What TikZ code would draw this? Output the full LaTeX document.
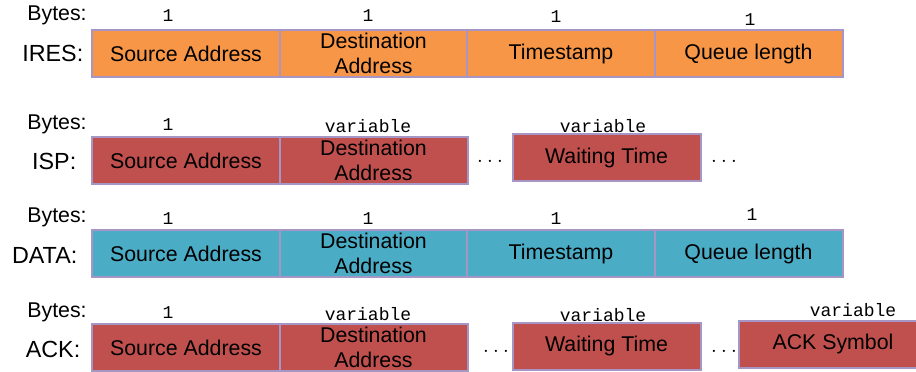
\documentclass[tikz,border=0pt]{standalone}
\usepackage{fontspec}
\setmainfont{Liberation Sans}
\setmonofont{Liberation Mono}
\definecolor{fieldorange}{HTML}{F79646}
\definecolor{fieldred}{HTML}{C0504D}
\definecolor{fieldblue}{HTML}{4BACC6}
\definecolor{fieldedge}{HTML}{A596C6}

\begin{document}
\begin{tikzpicture}[
        x=0.75pt,y=-0.75pt,
        field/.style={draw=fieldedge,line width=1.5pt,minimum width=141pt,minimum height=35.25pt,
          inner sep=0pt,align=center,font=\fontsize{16}{18.75}\selectfont},
        ires/.style={field,fill=fieldorange},
        isp/.style={field,fill=fieldred},
        dat/.style={field,fill=fieldblue},
        pkt/.style={anchor=east,font=\fontsize{17.5}{20}\selectfont},
        bytes/.style={font=\fontsize{16}{18}\selectfont},
        size/.style={font=\ttfamily\fontsize{13.5}{16}\selectfont},
        gap/.style={font=\fontsize{16}{18}\selectfont}
      ]
        \useasboundingbox (0,0) rectangle (916,371);

        \node[bytes] (iresbytes) at (57,15) {Bytes:};
        \node[pkt] (ireslabel) at (88,53) {IRES:};
        \node[ires] (iressrc) at (186,53.5) {Source Address};
        \node[ires] (iresdst) at (373.5,53.5) {Destination\\Address};
        \node[ires] (irests) at (561,53.5) {Timestamp};
        \node[ires] (iresq) at (748.5,53.5) {Queue length};
        \node[size] at (168,16) {1};
        \node[size] at (368,16) {1};
        \node[size] at (556,17) {1};
        \node[size] at (750,20) {1};

        \node[bytes] (ispbytes) at (57,124) {Bytes:};
        \node[pkt] (isplabel) at (81,161) {ISP:};
        \node[isp] (ispsrc) at (186,160.5) {Source Address};
        \node[isp] (ispdst) at (373.5,160.5) {Destination\\Address};
        \node[gap] (ispgap1) at (490,161) {$\ldots$};
        \node[isp] (ispwait) at (606.5,157.5) {Waiting Time};
        \node[gap] (ispgap2) at (724,161) {$\ldots$};
        \node[size] at (168,125) {1};
        \node[size] at (368,126) {variable};
        \node[size] at (603,126) {variable};

        \node[bytes] (databytes) at (57,217) {Bytes:};
        \node[pkt] (datalabel) at (82,255) {DATA:};
        \node[dat] (datasrc) at (186,253.5) {Source Address};
        \node[dat] (datadst) at (373.5,253.5) {Destination\\Address};
        \node[dat] (datats) at (561,253.5) {Timestamp};
        \node[dat] (dataq) at (748.5,253.5) {Queue length};
        \node[size] at (168,219) {1};
        \node[size] at (368,219) {1};
        \node[size] at (556,219) {1};
        \node[size] at (752,215) {1};

        \node[bytes] (ackbytes) at (57,312) {Bytes:};
        \node[pkt] (acklabel) at (85,349) {ACK:};
        \node[isp] (acksrc) at (186,347.5) {Source Address};
        \node[isp] (ackdst) at (373.5,347.5) {Destination\\Address};
        \node[gap] (ackgap1) at (496,351) {$\ldots$};
        \node[isp] (ackwait) at (606.5,346) {Waiting Time};
        \node[gap] (ackgap2) at (724,351) {$\ldots$};
        \node[isp] (acksym) at (833,344) {ACK Symbol};
        \node[size] at (168,313) {1};
        \node[size] at (368,314) {variable};
        \node[size] at (603,315) {variable};
        \node[size] at (853,310) {variable};
      \end{tikzpicture}
\end{document}
